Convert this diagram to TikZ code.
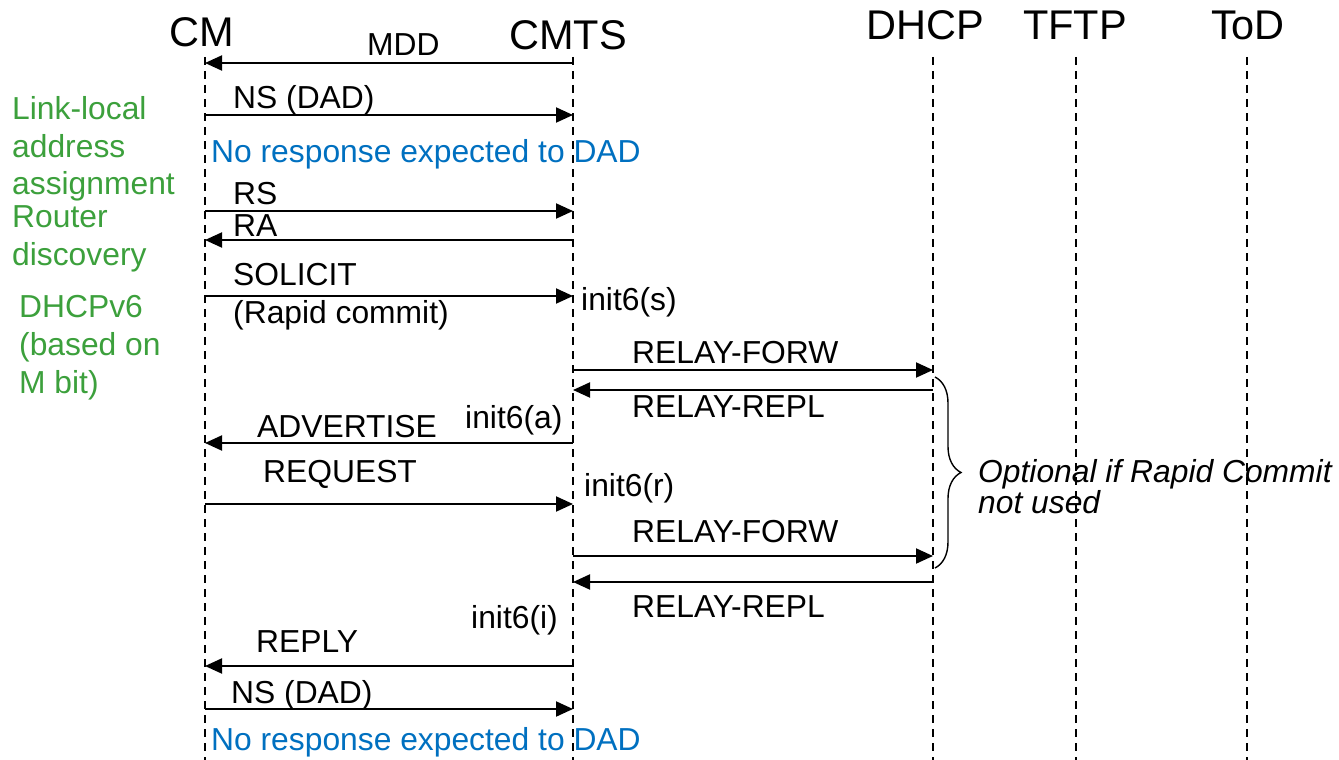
\documentclass[tikz,border=0pt]{standalone}
\usepackage{fontspec}
\setmainfont{Liberation Sans}
\usetikzlibrary{arrows.meta,decorations.pathreplacing}
\definecolor{phasegreen}{RGB}{60,160,60}
\definecolor{noteblue}{RGB}{0,112,192}
\tikzset{
  lifeline/.style={dash pattern=on 8pt off 6pt, line width=1.4pt},
  msg/.style={-{Triangle[length=17pt,width=15pt]}, line width=2pt},
  lbl/.style={anchor=base west, inner sep=0pt, font=\fontsize{31.8}{38}\selectfont},
  head/.style={anchor=base, inner sep=0pt, font=\fontsize{41.5}{49}\selectfont},
  phase/.style={lbl, text=phasegreen},
  note/.style={lbl, text=noteblue},
}
\begin{document}
\begin{tikzpicture}[x=1pt,y=-1pt]
				\useasboundingbox (0,0) rectangle (1339,760);
				% Lifelines
				\foreach \name/\x/\lx/\ly/\txt in {cm/205/202/47/CM,cmts/573/568/50/CMTS,dhcp/933/925/40/DHCP,tftp/1076/1075/40/TFTP,tod/1247/1248/40/ToD}{
					\node[head] (\name) at (\lx,\ly) {\txt};
					\coordinate (\name-l) at (\x,57);
					\coordinate (\name-b) at (\x,760);
					\draw[lifeline] (\name-l) -- (\name-b);
				}
				
				% Message rows
				\foreach \row/\y in {mdd/63,nsa/115,rs/211,ra/240,sol/296,fwa/370,rpa/390,adv/443,req/504,fwb/556,rpb/582,rep/666,nsb/709}{
					\coordinate (\row) at (0,\y);
				}
				
				% Messages
				\draw[msg] (cmts-l |- mdd) -- (cm-l |- mdd);
				\draw[msg] (cm-l |- nsa) -- (cmts-l |- nsa);
				\draw[msg] (cm-l |- rs) -- (cmts-l |- rs);
				\draw[msg] (cmts-l |- ra) -- (cm-l |- ra);
				\draw[msg] (cm-l |- sol) -- (cmts-l |- sol);
				\draw[msg] (cmts-l |- fwa) -- (dhcp-l |- fwa);
				\draw[msg] (dhcp-l |- rpa) -- (cmts-l |- rpa);
				\draw[msg] (cmts-l |- adv) -- (cm-l |- adv);
				\draw[msg] (cm-l |- req) -- (cmts-l |- req);
				\draw[msg] (cmts-l |- fwb) -- (dhcp-l |- fwb);
				\draw[msg] (dhcp-l |- rpb) -- (cmts-l |- rpb);
				\draw[msg] (cmts-l |- rep) -- (cm-l |- rep);
				\draw[msg] (cm-l |- nsb) -- (cmts-l |- nsb);
				
				% Message labels
				\node[lbl] (mddlbl) at (367,56) {MDD};
				\node[lbl] (nsalbl) at (233,108) {NS (DAD)};
				\node[note] (dada) at (211,162) {No response expected to DAD};
				\node[lbl] (rslbl) at (233,204) {RS};
				\node[lbl] (ralbl) at (233,236) {RA};
				\node[lbl] (sollbl) at (233,285) {SOLICIT};
				\node[lbl] (rapid) at (233,323) {(Rapid commit)};
				\node[lbl] (inits) at (581,310) {init6(s)};
				\node[lbl] (fwalbl) at (632,363) {RELAY-FORW};
				\node[lbl] (rpalbl) at (632,417) {RELAY-REPL};
				\node[lbl] (inita) at (465,428) {init6(a)};
				\node[lbl] (advlbl) at (257,437) {ADVERTISE};
				\node[lbl] (reqlbl) at (263,482) {REQUEST};
				\node[lbl] (initr) at (584,496) {init6(r)};
				\node[lbl] (fwblbl) at (632,542) {RELAY-FORW};
				\node[lbl] (rpblbl) at (632,617) {RELAY-REPL};
				\node[lbl] (initi) at (471,628) {init6(i)};
				\node[lbl] (replbl) at (256,652) {REPLY};
				\node[lbl] (nsblbl) at (231,703) {NS (DAD)};
				\node[note] (dadb) at (211,750) {No response expected to DAD};
				
				% Phases
				\foreach \t/\y in {Link-local/119,address/157,assignment/194,Router/227,discovery/265}{
					\node[phase] (p\y) at (12,\y) {\t};
				}
				\node[phase] (dhcpa) at (19,317) {DHCPv6};
				\node[phase] (dhcpb) at (19,355) {(based on};
				\node[phase] (dhcpc) at (19,393) {M bit)};
				
				% Optional brace
				\coordinate (brtop) at (935,377);
				\coordinate (brbot) at (935,568);
				\draw[decorate, decoration={brace, amplitude=26pt}, line width=1.4pt] (brtop) -- (brbot);
				\node[lbl, font=\fontsize{31.8}{38}\selectfont\itshape] (opt) at (978,482) {Optional if Rapid Commit};
				\node[lbl, font=\fontsize{31.8}{38}\selectfont\itshape] (notused) at (978,513) {not used};
			\end{tikzpicture}
\end{document}
